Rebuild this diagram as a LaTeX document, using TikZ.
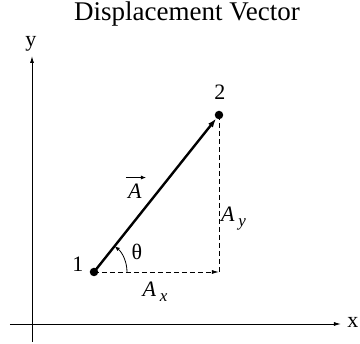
\documentclass[tikz,border=0pt]{standalone}
\usepackage{fontspec}
\setmainfont{Liberation Serif}
\usetikzlibrary{arrows.meta,calc}
\begin{document}
\begin{tikzpicture}[x=1pt,y=-1pt,
  lbl/.style={inner sep=0pt,font=\fontsize{22}{24}\selectfont},
  axis/.style={line width=0.9pt,-{Latex[length=7pt,width=4pt]}},
  comp/.style={line width=0.9pt,dash pattern=on 5pt off 3pt},
  dot/.style={circle,fill=black,inner sep=0pt,minimum size=8.5pt}]
\useasboundingbox (0,0) rectangle (360,344);
\node[lbl,font=\fontsize{27}{29}\selectfont] (title) at (187,14) {Displacement Vector};
% axes
\coordinate (ybot) at (32,342);
\coordinate (ytop) at (32,56);
\coordinate (xleft) at (10,324);
\coordinate (xright) at (341,324);
\draw[axis] (ybot) -- (ytop);
\draw[axis] (xleft) -- (xright);
\node[lbl] (ylab) at (31,44) {y};
\node[lbl] (xlab) at (353,322) {x};
% points
\node[dot] (p1) at (94,272) {};
\node[dot] (p2) at (219,115) {};
\coordinate (corner) at (219,272);
\node[lbl] (n1) at (78,264) {1};
\node[lbl] (n2) at (220,92) {2};
% components
\draw[comp] (p2.center) -- (corner);
\draw[comp,-{Latex[length=7pt,width=4pt]}] (p1.center) -- (corner);
% vector
\draw[line width=2.4pt,-{Latex[length=9pt,width=6pt]}] (p1.center) -- (p2);
% angle
\draw[line width=0.8pt,-{Latex[length=5pt,width=4pt]}] ($(p1.center)+(33,0)$) arc[start angle=0,end angle=-51,radius=33];
\node[lbl] (th) at (137,252) {θ};
% labels
\node[lbl] (A) at (135,191) {\textit{A}};
\draw[line width=0.8pt,-{Latex[length=5pt,width=4pt]}] ($(A.north)+(-9,-6)$) -- ($(A.north)+(11,-6)$);
\node[lbl,anchor=west] (Ay) at (221,219) {\textit{A}\,\raisebox{-5pt}{\fontsize{17}{18}\selectfont\textit{y}}};
\node[lbl] (Ax) at (155,292) {\textit{A}\,\raisebox{-5pt}{\fontsize{17}{18}\selectfont\textit{x}}};
\end{tikzpicture}
\end{document}
